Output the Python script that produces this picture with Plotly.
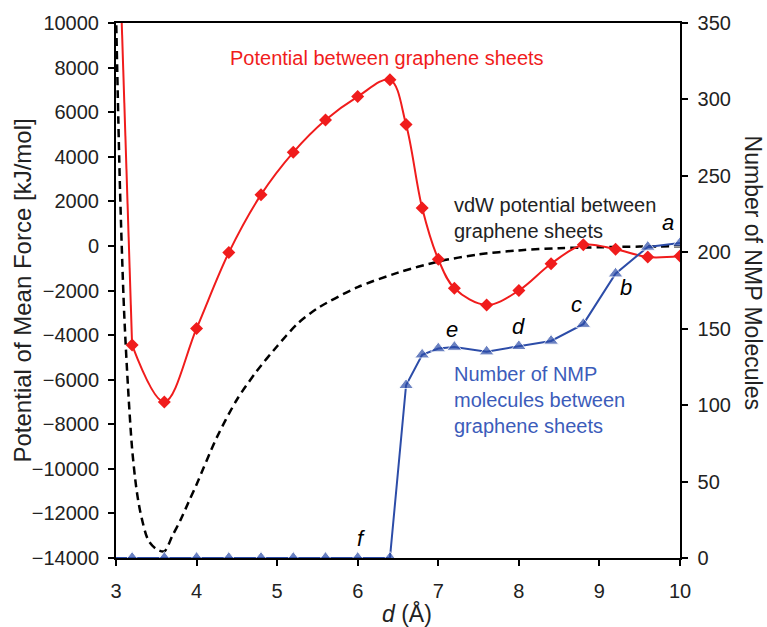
import plotly.graph_objects as go

# Separation between graphene sheets, d (Å)
d_pmf = [3.0, 3.2, 3.6, 4.0, 4.4, 4.8, 5.2, 5.6, 6.0, 6.4, 6.6, 6.8, 7.0,
         7.2, 7.6, 8.0, 8.4, 8.8, 9.2, 9.6, 10.0]
# Potential of mean force between the sheets (kJ/mol)
pmf = [18000, -4450, -7000, -3700, -300, 2300, 4200, 5650, 6700, 7450, 5450,
       1700, -600, -1900, -2650, -2000, -800, 50, -150, -500, -450]

# van der Waals potential between the sheets (kJ/mol)
d_vdw = [3.0, 3.05, 3.1, 3.15, 3.2, 3.25, 3.3, 3.4, 3.5, 3.6, 3.7, 3.8, 3.9,
         4.0, 4.25, 4.5, 4.75, 5.0, 5.25, 5.5, 6.0, 6.5, 7.0, 7.5, 8.0, 8.5,
         9.0, 9.5, 10.0]
vdw = [10500, 2500, -2900, -6400, -9100, -10800, -11900, -13200, -13600,
       -13700, -13000, -12300, -11500, -10700, -8600, -6900, -5600, -4500,
       -3500, -2800, -1850, -1200, -700, -380, -200, -100, -60, -30, -15]

# Number of NMP molecules between the sheets
d_nmp = [3.0, 3.2, 3.6, 4.0, 4.4, 4.8, 5.2, 5.6, 6.0, 6.4, 6.6, 6.8, 7.0, 7.2,
         7.6, 8.0, 8.4, 8.8, 9.2, 9.6, 10.0]
nmp = [0, 0, 0, 0, 0, 0, 0, 0, 0, 0, 113, 133, 137, 138, 135, 138.5, 142,
       153, 186, 203.5, 206]

# Right-axis tick values
nmp_ticks = [0, 50, 100, 150, 200, 250, 300, 350]

# Configuration labels along the NMP curve
state_labels = ["a", "b", "c", "d", "e", "f"]
state_x = [9.85, 9.33, 8.72, 8.0, 7.17, 6.05]
state_y = [1050, -1850, -2620, -3600, -3750, -13120]

RED = "#f01c1c"
BLUE = "#2c4ca8"
FONT = "Arial, Liberation Sans, sans-serif"
FS = 20

fig = go.Figure()

fig.add_trace(go.Scatter(
    x=d_vdw, y=vdw, mode="lines", name="vdW",
    line=dict(color="black", width=2.5, dash="8px,5px", shape="spline",
              smoothing=0.8),
    showlegend=False))

# steep repulsive wall of the PMF (first point lies above the axis range)
fig.add_trace(go.Scatter(
    x=d_pmf[:2], y=pmf[:2], mode="lines", name="PMF wall",
    line=dict(color=RED, width=2),
    showlegend=False))

fig.add_trace(go.Scatter(
    x=d_pmf[1:], y=pmf[1:], mode="lines+markers", name="PMF",
    line=dict(color=RED, width=2, shape="spline", smoothing=1.0),
    marker=dict(symbol="diamond", size=10, color=RED),
    showlegend=False))

fig.add_trace(go.Scatter(
    x=d_nmp, y=nmp, mode="lines+markers", name="NMP", yaxis="y2",
    line=dict(color=BLUE, width=2),
    marker=dict(symbol="triangle-up", size=[0] + [13] * (len(d_nmp) - 1),
                color=BLUE),
    showlegend=False))

axis_common = dict(
    showgrid=False, zeroline=False, showline=True, linecolor="black",
    linewidth=2, ticks="outside", ticklen=6, tickwidth=1.5,
    tickcolor="black", tickfont=dict(family=FONT, size=FS, color="#222"))

fig.update_layout(
    width=767, height=627,
    margin=dict(l=116, r=87, t=20, b=69),
    paper_bgcolor="white", plot_bgcolor="white",
    font=dict(family=FONT, size=FS, color="#222"),
    xaxis=dict(range=[3, 10], dtick=1, tick0=3, mirror=True,
               ticklabelstandoff=8, **axis_common),
    yaxis=dict(range=[-14000, 10000], dtick=2000, tick0=-14000,
               tickformat="d", ticklabelstandoff=5, **axis_common),
    yaxis2=dict(range=[0, 350], tickmode="array", tickvals=nmp_ticks,
                ticktext=["\u00a0" + str(v) for v in nmp_ticks],
                overlaying="y", side="right", **axis_common),
)

annotations = [
    dict(x=6.36, y=8450, text="Potential between graphene sheets",
         font=dict(color=RED, size=FS), xanchor="center", yanchor="middle"),
    dict(x=7.17, y=1250, text="vdW potential between<br>graphene sheets",
         font=dict(color="#222", size=FS), xanchor="left", yanchor="middle",
         align="left"),
    dict(x=7.17, y=-6900,
         text="Number of NMP<br>molecules between<br>graphene sheets",
         font=dict(color="#3c5cba", size=FS), xanchor="left",
         yanchor="middle", align="left"),
]
for lab, lx, ly in zip(state_labels, state_x, state_y):
    annotations.append(dict(x=lx, y=ly, text=f"<i>{lab}</i>",
                            font=dict(color="black", size=22),
                            xanchor="center", yanchor="middle"))

for a in annotations:
    a.update(xref="x", yref="y", showarrow=False)

# Axis titles, positioned in pixels and converted to paper coordinates
titles = [
    dict(x=22, y=289, text="Potential of Mean Force [kJ/mol]", textangle=-90,
         size=24),
    dict(x=753, y=271, text="Number of NMP Molecules", textangle=90,
         size=23),
    dict(x=407, y=614, text="<i>d</i> (Å)", textangle=0, size=23),
]
pw, ph = 767 - 116 - 87, 627 - 20 - 69
for t in titles:
    size = t.pop("size")
    t.update(x=(t["x"] - 116) / pw, y=(627 - 69 - t["y"]) / ph,
             xref="paper", yref="paper", xanchor="center", yanchor="middle",
             showarrow=False, font=dict(size=size, color="#222"))
annotations += titles

fig.update_layout(annotations=annotations)

fig.write_html("out.html")
